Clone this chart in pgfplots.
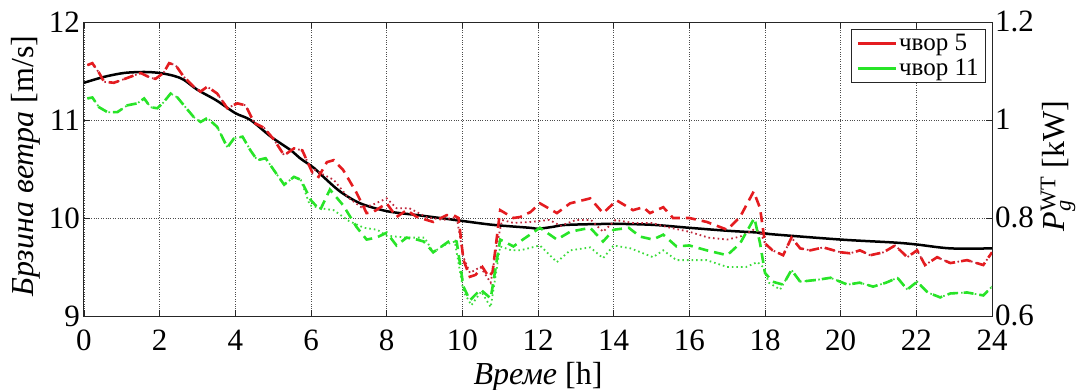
\documentclass[border=0pt]{standalone}
\usepackage{fontspec}
\setmainfont{Liberation Serif}
\newfontfamily\srb{Liberation Serif}[Script=Cyrillic,Language=Serbian]
\usepackage{pgfplots}
\pgfplotsset{compat=1.18}
\definecolor{mred}{RGB}{228,28,32}
\definecolor{mgreen}{RGB}{40,228,40}
\definecolor{mdred}{RGB}{190,40,60}
\definecolor{mdgreen}{RGB}{60,220,60}
\pgfplotsset{
  common/.style={
    scale only axis, width=908pt, height=294pt,
    xmin=0, xmax=24,
    tick align=inside, major tick length=6pt,
    /pgf/number format/assume math mode=true,
    tick label style={font=\fontsize{31}{33}\selectfont, inner sep=1pt},
    axis line style={line width=1pt, black!85},
    every tick/.style={black!85, line width=0.8pt},
  }
}
\begin{document}
\begin{tikzpicture}
\useasboundingbox (-84pt,-73pt) rectangle (996pt,316pt);
\begin{axis}[common,
  ymin=9, ymax=12, ytick={9,10,11,12},
  xtick={0,2,...,24},
  ytick pos=left,
  xticklabel style={yshift=-13pt},
  yticklabel style={xshift=-3pt},
  grid=major,
  grid style={dotted, black!70, line width=0.8pt},
  xlabel={\srb\textit{Време} [h]},
  ylabel={\srb\textit{Брзина ветра} [m/s]},
  every axis x label/.style={at={(axis description cs:0.5,0)}, anchor=base, yshift=-68pt, font=\fontsize{32}{34}\selectfont},
  every axis y label/.style={at={(axis description cs:0,0.51)}, xshift=-58pt, anchor=center, rotate=90, font=\fontsize{32}{34}\selectfont},
]
\addplot[black, line width=2.5pt, smooth] coordinates {
(0,11.38) (0.53,11.44) (1.06,11.48) (1.59,11.49) (2.0,11.48) (2.38,11.45) (2.64,11.41)
(2.99,11.31) (3.5,11.2) (4.0,11.07) (4.4,11.0) (4.94,10.83) (5.47,10.69) (5.71,10.61)
(6.08,10.51) (6.3,10.43) (6.77,10.27) (7.3,10.15) (8.0,10.07) (8.8,10.03) (9.41,10.0)
(10.0,9.97) (10.81,9.93) (11.79,9.9) (12.0,9.89) (12.4,9.91) (12.77,9.93) (14.0,9.94)
(15.04,9.93) (16,9.9) (17,9.87) (17.87,9.85) (18,9.84) (20,9.78) (21.4,9.75) (22,9.73)
(22.9,9.69) (24,9.69)
};
\end{axis}
\begin{axis}[common,
  ymin=0.6, ymax=1.2, ytick={0.6,0.8,1,1.2},
  axis x line=none, axis y line*=right,
  yticklabel style={xshift=2pt, yshift=1pt},
  ylabel={$\mathit{P}_{\mathit{g}}^{\mathrm{WT}}$ [kW]},
  every axis y label/.style={at={(axis description cs:1,0.51)}, xshift=66pt, anchor=center, rotate=90, font=\fontsize{32}{34}\selectfont},
  legend style={at={(rel axis cs:0.9934,0.976)}, anchor=north east,
    font=\srb\fontsize{25}{27}\selectfont, draw=black!85, line width=0.8pt,
    inner xsep=5pt, inner ysep=3pt, row sep=3pt},
  legend cell align=left,
  legend image code/.code={\draw[solid, line width=2.6pt, #1] (0pt,0pt) -- (38pt,0pt);},
]
% red dotted
\addplot[mdred, line width=1.8pt, dash pattern=on 1.6pt off 3pt, forget plot] coordinates {
(0.09,1.112) (0.22,1.116) (0.40,1.096) (0.53,1.078) (0.79,1.076) (1.15,1.086) (1.50,1.096)
(1.76,1.086) (1.89,1.084) (2.10,1.096) (2.25,1.116) (2.42,1.112) (2.64,1.088) (2.90,1.068)
(3.08,1.058) (3.26,1.068) (3.52,1.054) (3.79,1.024) (4.05,1.034) (4.27,1.030) (4.50,0.994)
(4.76,0.984) (5.02,0.960) (5.29,0.928) (5.55,0.942) (5.77,0.938) (6.04,0.892) (6.10,0.898)
(6.24,0.892) (6.60,0.878) (6.98,0.842) (7.33,0.822) (7.60,0.826) (8.00,0.840) (8.26,0.820)
(8.60,0.820) (9.05,0.802) (9.50,0.796) (9.85,0.802) (10.03,0.720) (10.20,0.688) (10.48,0.700)
(10.75,0.668) (10.90,0.740) (11.05,0.796) (11.35,0.790) (11.80,0.792) (12.30,0.796)
(12.60,0.784) (13.00,0.796) (13.40,0.796) (13.72,0.772) (14.05,0.796) (14.50,0.790)
(15.00,0.790) (15.50,0.780) (16.00,0.772) (16.50,0.760) (17.00,0.756) (17.34,0.762)
(17.70,0.776) (17.87,0.772) (18.00,0.748) (18.20,0.734) (18.48,0.724) (18.70,0.760)
(18.93,0.738) (19.20,0.734) (19.54,0.740) (20.00,0.730) (20.25,0.728) (20.51,0.734)
(20.78,0.724) (21.13,0.730) (21.44,0.744) (21.76,0.720) (22.02,0.734) (22.23,0.704)
(22.55,0.720) (22.90,0.708) (23.34,0.714) (23.77,0.704) (24.00,0.730)
};
% green dotted
\addplot[mdgreen, line width=1.8pt, dash pattern=on 1.6pt off 3pt, forget plot] coordinates {
(0.09,1.044) (0.22,1.046) (0.40,1.026) (0.62,1.016) (0.88,1.016) (1.15,1.030) (1.41,1.034)
(1.59,1.044) (1.76,1.026) (1.94,1.024) (2.10,1.036) (2.29,1.054) (2.47,1.046) (2.64,1.030)
(2.90,1.006) (3.08,0.996) (3.26,1.004) (3.52,0.986) (3.79,0.944) (3.96,0.962) (4.19,0.966)
(4.40,0.938) (4.58,0.918) (4.80,0.922) (5.07,0.892) (5.29,0.868) (5.55,0.884) (5.73,0.878)
(5.97,0.826) (6.24,0.820) (6.60,0.816) (7.00,0.794) (7.40,0.780) (7.75,0.776) (8.00,0.764)
(8.50,0.760) (9.00,0.760) (9.23,0.730) (9.50,0.744) (9.80,0.752) (10.03,0.650) (10.24,0.622)
(10.50,0.650) (10.75,0.618) (11.00,0.742) (11.30,0.734) (11.53,0.734) (12.05,0.744)
(12.50,0.710) (12.85,0.734) (13.38,0.740) (13.72,0.718) (14.00,0.744) (14.45,0.738)
(15.04,0.720) (15.31,0.734) (15.66,0.714) (16.46,0.714) (17.00,0.700) (17.50,0.700)
(17.80,0.710) (17.95,0.700) (18.10,0.668) (18.40,0.654) (18.70,0.694) (18.93,0.670)
(19.40,0.674) (19.73,0.678) (20.18,0.664) (20.50,0.668) (20.86,0.660) (21.20,0.668)
(21.50,0.678) (21.76,0.654) (22.02,0.670) (22.30,0.648) (22.63,0.638) (22.90,0.646)
(23.34,0.648) (23.77,0.642) (24.00,0.660)
};
% red dashed
\addplot[mred, line width=2.6pt, dash pattern=on 10pt off 6pt] coordinates {
(0.09,1.112) (0.22,1.116) (0.40,1.096) (0.53,1.078) (0.79,1.076) (1.15,1.086) (1.50,1.096)
(1.76,1.086) (1.89,1.084) (2.10,1.096) (2.25,1.116) (2.42,1.112) (2.64,1.088) (2.90,1.068)
(3.08,1.058) (3.26,1.068) (3.52,1.054) (3.79,1.024) (4.05,1.034) (4.27,1.030) (4.50,0.994)
(4.76,0.984) (5.02,0.960) (5.29,0.928) (5.55,0.942) (5.77,0.938) (6.04,0.892) (6.20,0.884)
(6.42,0.914) (6.60,0.918) (6.85,0.898) (7.20,0.852) (7.47,0.810) (7.64,0.812) (8.00,0.830)
(8.26,0.802) (8.53,0.816) (8.80,0.802) (9.23,0.792) (9.59,0.806) (9.76,0.806) (9.90,0.800)
(10.03,0.714) (10.20,0.680) (10.35,0.684) (10.53,0.700) (10.70,0.680) (10.80,0.690)
(11.00,0.816) (11.35,0.800) (11.53,0.802) (11.80,0.812) (12.05,0.830) (12.50,0.810)
(12.85,0.830) (13.38,0.840) (13.72,0.810) (14.08,0.836) (14.51,0.816) (14.78,0.822)
(14.96,0.810) (15.31,0.822) (15.57,0.800) (16.00,0.800) (16.46,0.792) (17.00,0.776)
(17.34,0.802) (17.70,0.854) (17.87,0.820) (18.00,0.748) (18.20,0.734) (18.48,0.724)
(18.70,0.760) (18.93,0.738) (19.20,0.734) (19.54,0.740) (20.00,0.730) (20.25,0.728)
(20.51,0.734) (20.78,0.724) (21.13,0.730) (21.44,0.744) (21.76,0.720) (22.02,0.734)
(22.23,0.704) (22.55,0.720) (22.90,0.708) (23.34,0.714) (23.77,0.704) (24.00,0.730)
};
\addlegendentry{чвор 5}
% green dashed
\addplot[mgreen, line width=2.6pt, dash pattern=on 10pt off 6pt] coordinates {
(0.09,1.044) (0.22,1.046) (0.40,1.026) (0.62,1.016) (0.88,1.016) (1.15,1.030) (1.41,1.034)
(1.59,1.044) (1.76,1.026) (1.94,1.024) (2.10,1.036) (2.29,1.054) (2.47,1.046) (2.64,1.030)
(2.90,1.006) (3.08,0.996) (3.26,1.004) (3.52,0.986) (3.79,0.944) (3.96,0.962) (4.19,0.966)
(4.40,0.938) (4.58,0.918) (4.80,0.922) (5.07,0.892) (5.29,0.868) (5.55,0.884) (5.73,0.878)
(6.00,0.836) (6.24,0.816) (6.50,0.858) (6.85,0.826) (7.20,0.782) (7.47,0.756) (7.73,0.760)
(8.00,0.770) (8.26,0.744) (8.53,0.760) (8.80,0.756) (8.98,0.752) (9.23,0.730) (9.49,0.744)
(9.71,0.756) (9.85,0.752) (10.03,0.660) (10.20,0.632) (10.48,0.654) (10.75,0.636)
(11.00,0.756) (11.35,0.742) (11.60,0.756) (12.05,0.780) (12.50,0.756) (12.85,0.772)
(13.38,0.780) (13.72,0.752) (14.00,0.776) (14.40,0.780) (14.70,0.762) (15.04,0.756)
(15.31,0.766) (15.66,0.742) (16.00,0.744) (16.46,0.734) (17.00,0.724) (17.34,0.748)
(17.72,0.800) (17.87,0.748) (18.00,0.688) (18.20,0.670) (18.48,0.664) (18.70,0.694)
(18.93,0.670) (19.40,0.674) (19.73,0.678) (20.18,0.664) (20.50,0.668) (20.86,0.660)
(21.20,0.668) (21.50,0.678) (21.76,0.654) (22.02,0.670) (22.30,0.648) (22.63,0.638)
(22.90,0.646) (23.34,0.648) (23.77,0.642) (24.00,0.660)
};
\addlegendentry{чвор 11}
\end{axis}
\end{tikzpicture}
\end{document}
